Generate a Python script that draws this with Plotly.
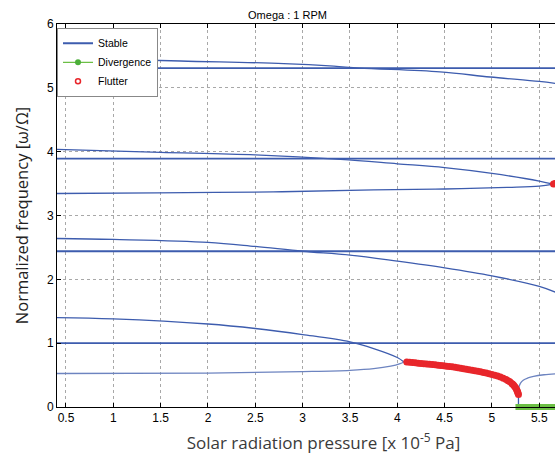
import plotly.graph_objects as go

# ---- data ----
x_b1_up = [0.405, 1.0, 2.0, 2.5, 3.0, 3.5, 3.75, 4.0, 4.07]
y_b1_up = [1.40, 1.38, 1.30, 1.23, 1.135, 1.02, 0.915, 0.775, 0.705]
x_b1_lo = [0.405, 2.0, 3.0, 3.5, 3.75, 3.93, 4.03, 4.07]
y_b1_lo = [0.525, 0.53, 0.555, 0.575, 0.60, 0.64, 0.68, 0.705]

x_b2 = [0.405, 1.0, 2.0, 2.5, 3.0, 3.5, 4.0, 4.5, 5.0, 5.5, 5.67]
y_b2 = [2.64, 2.625, 2.58, 2.515, 2.44, 2.38, 2.285, 2.18, 2.055, 1.89, 1.80]

x_b3_up = [0.405, 1.5, 2.5, 3.4, 4.0, 4.5, 5.0, 5.5, 5.65]
y_b3_up = [4.035, 3.99, 3.95, 3.88, 3.81, 3.75, 3.66, 3.54, 3.49]
x_b3_lo = [0.405, 1.46, 2.69, 3.75, 4.5, 5.16, 5.5, 5.65]
y_b3_lo = [3.345, 3.355, 3.37, 3.40, 3.415, 3.44, 3.46, 3.49]

x_b4 = [0.405, 1.71, 2.8, 3.33, 3.6, 4.45, 4.98, 5.5, 5.67]
y_b4 = [5.47, 5.42, 5.38, 5.34, 5.31, 5.25, 5.17, 5.10, 5.07]

x_const = [0.405, 5.67]
y_const_levels = [1.0, 2.44, 3.89, 5.31]

x_drop = [5.28, 5.28]
y_drop = [0.17, 0.0]
x_rise = [5.28, 5.30, 5.33, 5.38, 5.44, 5.55, 5.67]
y_rise = [0.29, 0.37, 0.42, 0.455, 0.48, 0.505, 0.52]

x_flut = [4.10, 4.13, 4.16, 4.19, 4.22, 4.25, 4.28, 4.31, 4.34, 4.37, 4.40, 4.43,
          4.46, 4.49, 4.52, 4.55, 4.58, 4.61, 4.64, 4.67, 4.70, 4.73, 4.76, 4.79,
          4.82, 4.85, 4.88, 4.91, 4.94, 4.97, 5.00, 5.03, 5.06, 5.09, 5.12, 5.15,
          5.17, 5.19, 5.21, 5.22, 5.23, 5.24, 5.25, 5.26, 5.265, 5.27, 5.275, 5.28,
          5.65, 5.67]
y_flut = [0.705, 0.701, 0.696, 0.692, 0.687, 0.683, 0.678, 0.673, 0.669, 0.664, 0.660, 0.655,
          0.650, 0.646, 0.640, 0.635, 0.629, 0.623, 0.616, 0.608, 0.600, 0.593, 0.585, 0.577,
          0.569, 0.560, 0.551, 0.541, 0.531, 0.521, 0.510, 0.498, 0.485, 0.470, 0.452, 0.430,
          0.413, 0.394, 0.370, 0.355, 0.340, 0.320, 0.300, 0.275, 0.258, 0.238, 0.218, 0.195,
          3.495, 3.50]

x_div = [5.28, 5.30, 5.33, 5.36, 5.39, 5.42, 5.45, 5.48, 5.51, 5.54, 5.57, 5.60, 5.63, 5.66, 5.69]
y_div = [0.0] * len(x_div)

x_ticks = [0.5, 1, 1.5, 2, 2.5, 3, 3.5, 4, 4.5, 5, 5.5]
x_ticklabels = ["0.5", "1", "1.5", "2", "2.5", "3", "3.5", "4", "4.5", "5", "5.5"]
y_ticks = [0, 1, 2, 3, 4, 5, 6]

BLUE = "#3d5cae"
LIGHT = "#6d84c0"
GREEN = "#6cbf45"
RED = "#e8262b"

# The reference is a crop of a wider figure: draw wider, show the left 555 px.
FIG_W = 590

fig = go.Figure()

def stable(x, y, color=BLUE, width=1.3, show=False, shape="spline"):
    fig.add_trace(go.Scatter(x=x, y=y, mode="lines", name="Stable",
                             legendgroup="stable", showlegend=show,
                             line=dict(color=color, width=width, shape=shape)))

stable([None], [None], width=2, show=True)
for lvl in y_const_levels:
    stable(x_const, [lvl, lvl], width=1.8, shape="linear")
stable(x_b1_up, y_b1_up)
stable(x_b1_lo, y_b1_lo, color=LIGHT)
stable(x_b2, y_b2)
stable(x_b3_up, y_b3_up)
stable(x_b3_lo, y_b3_lo)
stable(x_b4, y_b4)
stable(x_drop, y_drop, shape="linear")
stable(x_rise, y_rise, color=LIGHT)

# divergence band (dense markers on the axis)
fig.add_trace(go.Scatter(x=x_div, y=y_div, mode="markers", showlegend=False,
                         cliponaxis=False,
                         marker=dict(symbol="square", size=6, color=GREEN, line=dict(width=0))))
fig.add_trace(go.Scatter(x=[None], y=[None], mode="lines+markers", name="Divergence",
                         line=dict(color=GREEN, width=1.2),
                         marker=dict(color="#4caf3a", size=6, symbol="circle")))

# flutter band
fig.add_trace(go.Scatter(x=x_flut, y=y_flut, mode="markers", showlegend=False,
                         cliponaxis=False,
                         marker=dict(symbol="circle", size=7, color=RED,
                                     line=dict(width=0))))
fig.add_trace(go.Scatter(x=[None], y=[None], mode="markers", name="Flutter",
                         marker=dict(symbol="circle-open", size=5, color=RED,
                                     line=dict(width=1.5, color=RED))))

axis_common = dict(showline=True, linecolor="black", linewidth=1, mirror="ticks",
                   ticks="inside", ticklen=4, tickcolor="black",
                   showgrid=True, gridcolor="#a8a8a8", griddash="dot", gridwidth=1,
                   zeroline=False, tickfont=dict(family="Arial", size=12, color="black"))

x_px_per_unit = 94.66
x_max = 0.405 + (FIG_W - 57) / x_px_per_unit

fig.update_layout(
    width=FIG_W, height=456,
    margin=dict(l=57, r=0, t=24, b=49),
    paper_bgcolor="white", plot_bgcolor="white",
    title=dict(text="Omega : 1 RPM", x=287.5 / FIG_W, xanchor="center", xref="container",
               y=1 - 15.5 / 456, yanchor="middle",
               font=dict(family="Arial", size=11, color="black")),
    legend=dict(x=0.0, xanchor="left", y=0.99, yanchor="top",
                bgcolor="white", bordercolor="#888888", borderwidth=1,
                font=dict(family="Arial", size=10.5, color="black"),
                tracegroupgap=0, itemwidth=30),
    xaxis=dict(range=[0.405, x_max], tickvals=x_ticks, ticktext=x_ticklabels,
               title=dict(text="Solar radiation pressure [x 10<sup>-5</sup> Pa]",
                          font=dict(family="Open Sans", size=17, color="#3a3a3a"),
                          standoff=12),
               **axis_common),
    yaxis=dict(range=[0, 6], tickvals=y_ticks,
               title=dict(text="Normalized frequency [ω/Ω]",
                          font=dict(family="Open Sans", size=16.5, color="#222222"),
                          standoff=14),
               **axis_common),
)

fig.write_html("out.html", config={"displayModeBar": False},
               post_script="document.body.style.margin='0px';"
                           "document.body.style.overflow='hidden';"
                           "document.documentElement.style.overflow='hidden';")
